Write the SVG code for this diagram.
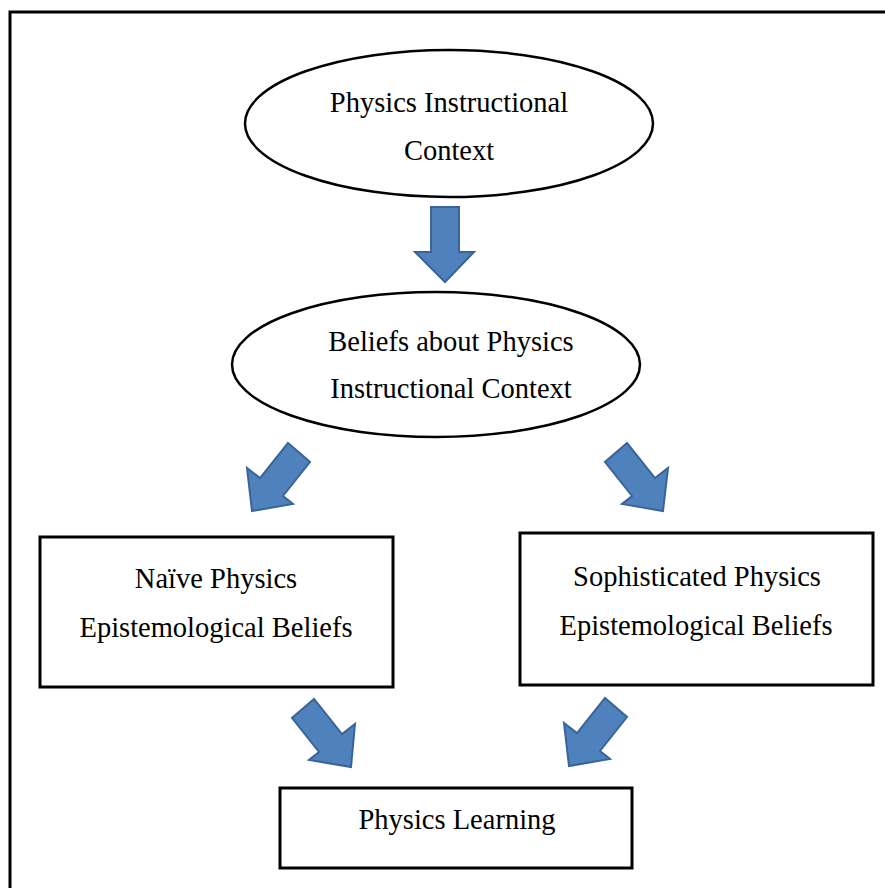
<svg xmlns="http://www.w3.org/2000/svg" width="885" height="888" viewBox="0 0 885 888">
<style>
.frame{fill:none;stroke:#000;stroke-width:3}
.ell{fill:#fff;stroke:#000;stroke-width:2.5}
.box{fill:#fff;stroke:#000;stroke-width:3}
.arr{fill:#4f81bd;stroke:#3a639a;stroke-width:2;stroke-linejoin:miter}
.t{font-family:"Liberation Serif","Times New Roman",serif;font-size:28.5px;fill:#000;text-anchor:middle}
</style>
<rect width="885" height="888" fill="#fff"/>
<rect class="frame" x="10" y="12" width="900" height="900"/>
<g id="connectors">
<polygon class="arr" points="431,207 459,207 459,252 474,252 445,282 415,252 431,252"/>
<polygon class="arr" points="288,443 310,462 283,496 293,504 252,511 247,468 260,478"/>
<polygon class="arr" points="627,443 605,462 632,496 622,504 663,511 668,468 655,478"/>
<polygon class="arr" points="314,699 292,718 319,752 309,760 351,767 355,724 342,734"/>
<polygon class="arr" points="605,698 627,717 600,751 610,759 569,766 564,723 577,733"/>
</g>
<g id="node-context">
<ellipse class="ell" cx="449" cy="123.5" rx="204" ry="73.5"/>
<text class="t" x="449" y="112">Physics Instructional</text>
<text class="t" x="449" y="160">Context</text>
</g>
<g id="node-beliefs">
<ellipse class="ell" cx="436" cy="364.5" rx="204" ry="72.5"/>
<text class="t" x="451" y="351">Beliefs about Physics</text>
<text class="t" x="451" y="398">Instructional Context</text>
</g>
<g id="node-naive">
<rect class="box" x="40" y="537" width="353" height="150"/>
<text class="t" x="216" y="588">Naïve Physics</text>
<text class="t" x="216" y="637">Epistemological Beliefs</text>
</g>
<g id="node-sophisticated">
<rect class="box" x="520" y="533" width="353" height="152"/>
<text class="t" x="697" y="586">Sophisticated Physics</text>
<text class="t" x="696" y="635">Epistemological Beliefs</text>
</g>
<g id="node-learning">
<rect class="box" x="280" y="788" width="352" height="80"/>
<text class="t" x="457" y="829">Physics Learning</text>
</g>
</svg>
